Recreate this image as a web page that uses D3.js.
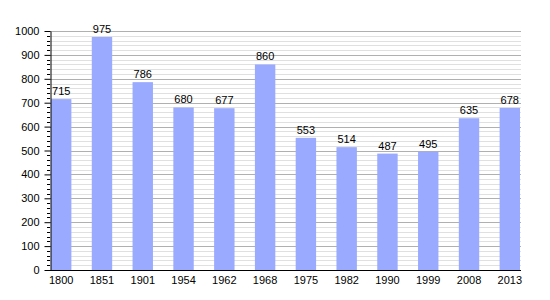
<!DOCTYPE html>
<html>
<head>
<meta charset="utf-8">
<script src="https://cdn.jsdelivr.net/npm/d3@7"></script>
<style>
  body { margin: 0; background: #fff; }
  svg text { font-family: "Liberation Sans", Arial, sans-serif; font-size: 11px; fill: #000; }
</style>
</head>
<body>
<svg id="chart" width="550" height="300"></svg>
<script>
const years = ["1800", "1851", "1901", "1954", "1962", "1968", "1975", "1982", "1990", "1999", "2008", "2013"];
const population = [715, 975, 786, 680, 677, 860, 553, 514, 487, 495, 635, 678];
const yTicks = [0, 100, 200, 300, 400, 500, 600, 700, 800, 900, 1000];

const plot = {left: 50, right: 521, top: 31, bottom: 270};
const svg = d3.select('#chart');

const x = d3.scaleBand()
    .domain(years)
    .range([plot.left + 1, plot.right - 1])
    .paddingInner(0.5)
    .paddingOuter(0);

const y = d3.scaleLinear()
    .domain([0, 1000])
    .range([plot.bottom, plot.top]);

const snap = v => Math.round(y(v)) + 0.5;

// minor gridlines every 20
const minor = d3.range(20, 1001, 20).filter(v => v % 100 !== 0);
svg.append('g')
    .selectAll('line')
    .data(minor)
    .join('line')
    .attr('x1', plot.left).attr('x2', plot.right)
    .attr('y1', snap).attr('y2', snap)
    .attr('stroke', '#e0e0e0');

// major gridlines
svg.append('g')
    .selectAll('line')
    .data(yTicks.filter(v => v > 0))
    .join('line')
    .attr('x1', plot.left).attr('x2', plot.right)
    .attr('y1', snap).attr('y2', snap)
    .attr('stroke', '#b0b0b0');

// bars
svg.append('g')
    .attr('fill', '#99aaff')
    .selectAll('rect')
    .data(population)
    .join('rect')
    .attr('x', (d, i) => x(years[i]))
    .attr('y', d => y(d))
    .attr('width', x.bandwidth())
    .attr('height', d => y(0) - y(d));

// value labels
svg.append('g')
    .selectAll('text')
    .data(population)
    .join('text')
    .attr('x', (d, i) => x(years[i]) + x.bandwidth() / 2)
    .attr('y', d => y(d) - 4)
    .attr('text-anchor', 'middle')
    .text(d => d);

// minor ticks on the axis
svg.append('g')
    .selectAll('line')
    .data(minor)
    .join('line')
    .attr('x1', plot.left - 3).attr('x2', plot.left)
    .attr('y1', snap).attr('y2', snap)
    .attr('stroke', '#000');

// y axis
const yAxis = svg.append('g')
    .attr('transform', 'translate(' + (plot.left + 0.5) + ',0)')
    .call(d3.axisLeft(y).tickValues(yTicks).tickFormat(d3.format('d')).tickSize(6).tickSizeOuter(0).tickPadding(5));
yAxis.select('.domain').attr('stroke', '#000');
yAxis.selectAll('text').style('font-size', '11px').style('font-family', '"Liberation Sans", Arial, sans-serif');

// x axis
const xAxis = svg.append('g')
    .attr('transform', 'translate(0,' + (plot.bottom + 0.5) + ')')
    .call(d3.axisBottom(x).tickSize(0).tickPadding(6));
xAxis.select('.domain').attr('d', 'M' + plot.left + ',0H' + plot.right).attr('stroke', '#000');
xAxis.selectAll('text').style('font-size', '11px').style('font-family', '"Liberation Sans", Arial, sans-serif');
</script>
</body>
</html>
